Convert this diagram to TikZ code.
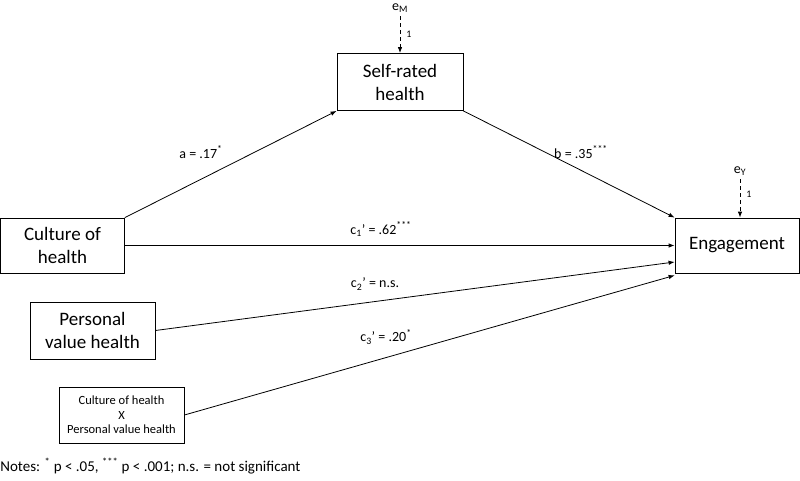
\documentclass[tikz,border=0pt]{standalone}
\usepackage{fontspec}
\setmainfont{Carlito}
\usetikzlibrary{arrows.meta,calc}

\begin{document}
\begin{tikzpicture}[x=1pt,y=-1pt,line width=0.8pt,
    var/.style={draw,align=center,inner sep=0pt,font=\fontsize{19}{23}\selectfont},
    effect/.style={-{Latex[length=6pt,width=4.5pt]}},
    err/.style={dash pattern=on 4pt off 3pt,-{Latex[length=6pt,width=4.5pt]}},
    lab/.style={font=\fontsize{14}{16}\selectfont},
    fix/.style={font=\fontsize{10}{12}\selectfont}]

\useasboundingbox (0,0) rectangle (800,481);

% Boxes
\node[var,minimum width=126pt,minimum height=57pt] (srh) at (400,82) {Self-rated\\health};
\node[var,minimum width=124pt,minimum height=55pt] (eng) at (737,245.5) {Engagement};
\node[var,minimum width=124pt,minimum height=55pt] (coh) at (62.5,245.5) {Culture of\\health};
\node[var,minimum width=125pt,minimum height=57pt] (pvh) at (92.5,330.5) {Personal\\value health};
\node[var,minimum width=125pt,minimum height=56pt,font=\fontsize{12.5}{14.5}\selectfont] (inter) at (121.5,415) {Culture of health\\X\\Personal value health};

% Error terms
\node[lab] (eM) at (400,8) {e\textsubscript{M}};
\node[lab] (eY) at (740,171) {e\textsubscript{Y}};
\draw[err] (eM.south) -- (srh.north);
\draw[err] (eY.south) -- (eY.south |- eng.north);
\node[fix] (oneM) at (409,34) {1};
\node[fix] (oneY) at (749,194) {1};

% Paths
\draw[effect] (coh.north east) -- (srh.south west);
\draw[effect] (srh.south east) -- (eng.north west);
\draw[effect] (coh.east) -- (eng.west);
\draw[effect] (pvh.east) -- ($(eng.west)+(0,16.5)$);
\draw[effect] (inter.east) -- ($(eng.south west)+(0,2)$);

% Labels
\node[lab] (la) at (201,152) {a = .17\textsuperscript{*}};
\node[lab] (lb) at (581,152) {b = .35\textsuperscript{***}};
\node[lab] (lc1) at (381,229) {c\textsubscript{1}’ = .62\textsuperscript{***}};
\node[lab] (lc2) at (375,284) {c\textsubscript{2}’ = n.s.};
\node[lab] (lc3) at (386,337) {c\textsubscript{3}’ = .20\textsuperscript{*}};

% Notes
\node[anchor=west,inner sep=0pt,font=\fontsize{15}{17}\selectfont] (notes) at (0,466) {Notes: \textsuperscript{*} p < .05, \textsuperscript{***} p < .001; n.s. = not significant};

\end{tikzpicture}
\end{document}
